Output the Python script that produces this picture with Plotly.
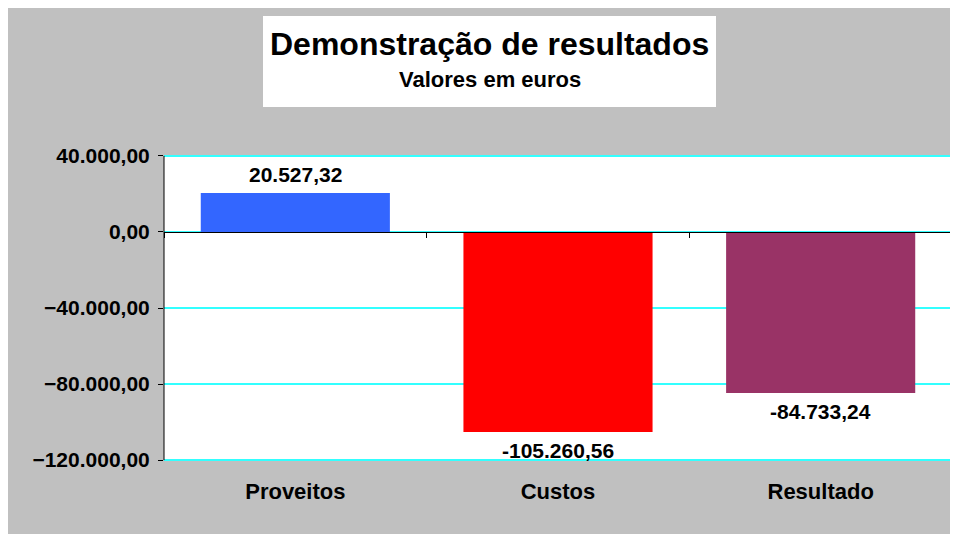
import plotly.graph_objects as go

categories = ["Proveitos", "Custos", "Resultado"]
values = [20527.32, -105260.56, -84733.24]
bar_colors = ["#3366FF", "#FF0000", "#993366"]
y_tickvals = [40000, 0, -40000, -80000, -120000]
y_min, y_max = -120000, 40000
title_text = "Demonstração de resultados"
subtitle_text = "Valores em euros"

OFF = 8  # page body margin
W, H = 970, 546  # slightly larger than the window; overflow is clipped
ML, MT, PW, PH = 156, 146, 788, 308
MR, MB = W - ML - PW, H - MT - PH
PAD = 1000  # small range padding so the edge grid lines are drawn


def px_x(p):
    return (p - OFF - ML) / PW


def px_y(p):
    return (MT + PH - (p - OFF)) / PH


def fmt_pt(v):
    s = f"{v:,.2f}"
    return s.replace(",", "X").replace(".", ",").replace("X", ".")


FONT = "Liberation Sans, Arial, sans-serif"

fig = go.Figure()
fig.add_trace(go.Bar(
    x=categories, y=values, marker=dict(color=bar_colors, line=dict(width=0)),
    width=0.72, hoverinfo="skip", showlegend=False,
))
# invisible trace so the zero-line category axis (boundary ticks) is drawn
fig.add_trace(go.Scatter(
    x=categories, y=values, xaxis="x2", mode="markers",
    marker=dict(opacity=0, size=1), hoverinfo="skip", showlegend=False,
))

annotations = []
for c, v in zip(categories, values):
    annotations.append(dict(
        x=c, y=v, xref="x", yref="y", text=fmt_pt(v), showarrow=False,
        yanchor="bottom" if v >= 0 else "top", yshift=5 if v >= 0 else -5,
        font=dict(family=FONT, size=21, color="black", weight="bold"),
    ))

annotations.append(dict(
    x=px_x(489.5), y=px_y(44.5), xref="paper", yref="paper", text=title_text,
    showarrow=False, xanchor="center", yanchor="middle",
    font=dict(family=FONT, size=32, color="black", weight="bold"),
))
annotations.append(dict(
    x=px_x(489.5), y=px_y(79.5), xref="paper", yref="paper", text=subtitle_text,
    showarrow=False, xanchor="center", yanchor="middle",
    font=dict(family=FONT, size=22, color="black", weight="bold"),
))

shapes = [
    dict(type="rect", xref="paper", yref="paper", layer="below",
         x0=px_x(263), x1=px_x(716), y0=px_y(107), y1=px_y(16),
         fillcolor="white", line=dict(width=0)),
    dict(type="rect", xref="paper", yref="y", layer="below",
         x0=0, x1=1, y0=y_min, y1=y_max,
         fillcolor="white", line=dict(width=0)),
]

fig.update_layout(
    width=W, height=H,
    margin=dict(l=ML, r=MR, t=MT, b=MB, pad=0),
    paper_bgcolor="#C0C0C0", plot_bgcolor="#C0C0C0",
    separators=",.",
    shapes=shapes, annotations=annotations,
    xaxis=dict(
        type="category", showline=False, showgrid=False, zeroline=False,
        ticks="", ticklabelstandoff=14,
        tickfont=dict(family=FONT, size=22, color="black", weight="bold"),
        range=[-0.5, 2.5],
    ),
    xaxis2=dict(
        type="category", overlaying="x", anchor="free", position=px_y(232),
        side="bottom", range=[-0.5, 2.5], tickson="boundaries",
        showticklabels=False, ticks="outside", ticklen=5, tickcolor="black",
        showline=True, linecolor="black", linewidth=1, showgrid=False, zeroline=False,
    ),
    yaxis=dict(
        range=[y_min - PAD, y_max + PAD], tickvals=y_tickvals, tickformat=",.2f",
        showline=False,
        ticks="outside", ticklen=5, tickcolor="black",
        showgrid=True, gridcolor="#33FFFF", gridwidth=1.5,
        zeroline=False, ticklabelstandoff=4,
        tickfont=dict(family=FONT, size=21, color="black", weight="bold"),
    ),
)
# y-axis line only over the data range, drawn from the axis limits
fig.add_shape(type="line", xref="paper", yref="y", x0=0, x1=0, y0=y_min, y1=y_max,
              line=dict(color="black", width=1), layer="above")

fig.write_html(
    "out.html",
    post_script="document.documentElement.style.overflow='hidden';"
                "document.body.style.overflow='hidden';",
)
